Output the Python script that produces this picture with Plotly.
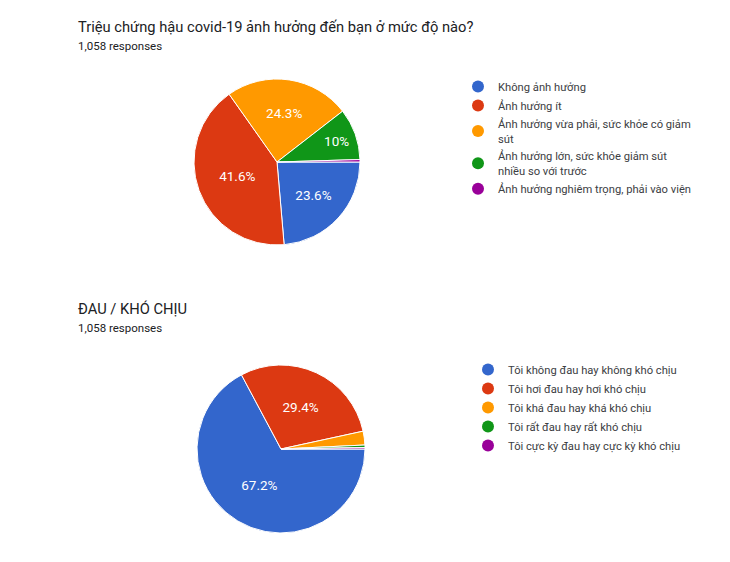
import textwrap
import plotly.graph_objects as go

# ---- data ----
q1_title = "Triệu chứng hậu covid-19 ảnh hưởng đến bạn ở mức độ nào?"
q1_labels = [
    "Không ảnh hưởng",
    "Ảnh hưởng ít",
    "Ảnh hưởng vừa phải, sức khỏe có giảm sút",
    "Ảnh hưởng lớn, sức khỏe giảm sút nhiều so với trước",
    "Ảnh hưởng nghiêm trọng, phải vào viện",
]
q1_counts = [250, 440, 257, 106, 5]

q2_title = "ĐAU / KHÓ CHỊU"
q2_labels = [
    "Tôi không đau hay không khó chịu",
    "Tôi hơi đau hay hơi khó chịu",
    "Tôi khá đau hay khá khó chịu",
    "Tôi rất đau hay rất khó chịu",
    "Tôi cực kỳ đau hay cực kỳ khó chịu",
]
q2_counts = [711, 311, 28, 5, 3]

responses_text = "1,058 responses"
colors = ["#3366cc", "#dc3912", "#ff9900", "#109618", "#990099"]

W, H = 730, 562
OFF = 8  # page body margin
FONT = "Roboto, Arial, sans-serif"


def pct_text(vals, min_share=0.05):
    tot = sum(vals)
    out = []
    for v in vals:
        p = v / tot
        if p < min_share:
            out.append("")
        else:
            s = f"{p*100:.1f}".rstrip("0").rstrip(".")
            out.append(s + "%")
    return out


def fx(px):
    return (px - OFF) / W


def fy(py):
    return 1 - (py - OFF) / H


fig = go.Figure()

pies = [
    (q1_labels, q1_counts, [fx(194), fx(360)], [fy(245), fy(79)], "legend"),
    (q2_labels, q2_counts, [fx(197), fx(365)], [fy(533), fy(365)], "legend2"),
]

for labels, counts, dx, dy, leg in pies:
    fig.add_trace(go.Pie(
        labels=labels, values=counts, sort=False, direction="clockwise",
        rotation=90, domain=dict(x=dx, y=dy),
        marker=dict(colors=colors, line=dict(color="white", width=1)),
        text=pct_text(counts), textinfo="text", textposition="inside",
        insidetextorientation="horizontal",
        textfont=dict(color="white", size=13.5, family=FONT),
        showlegend=False, hoverinfo="label+value+percent",
    ))
    for lab, col in zip(labels, colors):
        fig.add_trace(go.Scatter(
            x=[None], y=[None], mode="markers", name="<br>".join(textwrap.wrap(lab, 37)),
            marker=dict(symbol="circle", size=11, color=col),
            legend=leg, showlegend=True,
        ))

legend_common = dict(
    xanchor="left", yanchor="top", bgcolor="rgba(0,0,0,0)",
    font=dict(family=FONT, size=11.2, color="#3c4043"),
    itemsizing="constant", tracegroupgap=0, itemwidth=30,
)


def title_ann(text, px, py, size):
    return dict(text=text, x=fx(px), y=fy(py), xref="paper", yref="paper",
                xanchor="left", yanchor="middle", showarrow=False,
                font=dict(family=FONT, size=size, color="#202124"))


fig.update_layout(
    width=W, height=H,
    margin=dict(l=0, r=0, t=0, b=0),
    paper_bgcolor="white", plot_bgcolor="white",
    xaxis=dict(visible=False), yaxis=dict(visible=False),
    legend=dict(x=fx(458), y=fy(72), **legend_common),
    legend2=dict(x=fx(468), y=fy(355), **legend_common),
    annotations=[
        title_ann(q1_title, 76, 27, 14.7),
        title_ann(responses_text, 76, 46, 11.5),
        title_ann(q2_title, 76, 309, 14.7),
        title_ann(responses_text, 76, 328, 11.5),
    ],
)

fig.write_html("out.html")
